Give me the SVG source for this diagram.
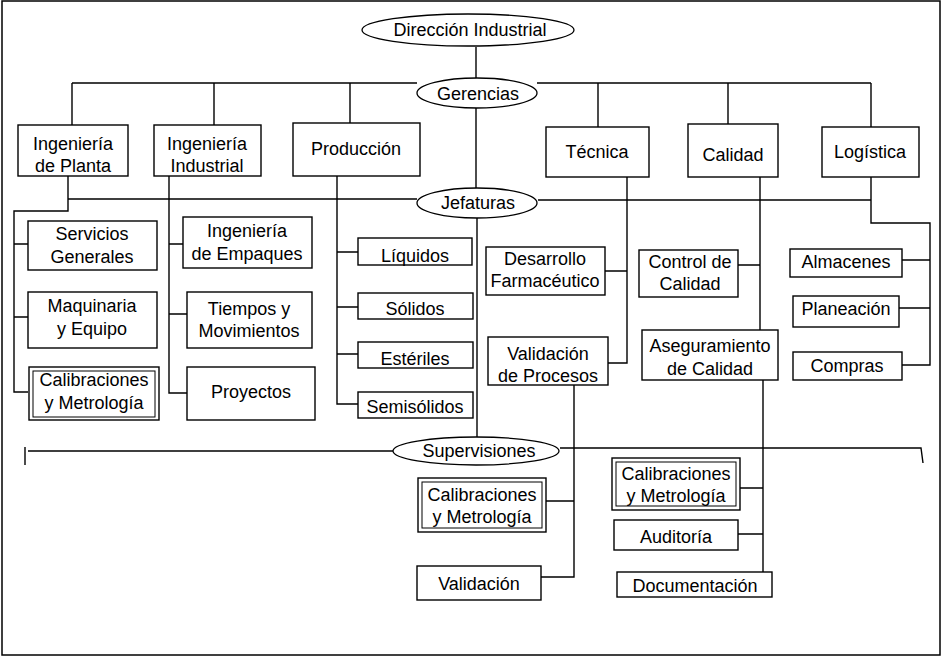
<svg xmlns="http://www.w3.org/2000/svg" width="942" height="657" viewBox="0 0 942 657">
<style>
.b{fill:#fff;stroke:#000;stroke-width:1.4}
.e{fill:#fff;stroke:#000;stroke-width:1.3}
.i{fill:none;stroke:#000;stroke-width:1}
.c{fill:none;stroke:#000;stroke-width:1.4}
text{font-family:"Liberation Sans",Arial,sans-serif;font-size:18px;fill:#000;text-anchor:middle}
</style>
<rect x="2" y="1" width="938" height="654" fill="#fff" stroke="#000" stroke-width="1.5"/>
<g id="connectors" class="c">
<path d="M476 47V78"/>
<path d="M72 83H417M537 83H871"/>
<path d="M72 83V125M214 83V125M350 83V123M598 83V127M728 83V124M871 83V127"/>
<path d="M476 108V188"/>
<path d="M68 199H417M538 200H871"/>
<path d="M68 176V211H14V392H28M14 244H28M14 317H28"/>
<path d="M169 176V393H187M169 244H183M169 314H187"/>
<path d="M337 176V404H358M337 252H358M337 307H358M337 354H358"/>
<path d="M477 218V437"/>
<path d="M627 177V363H608M605 271H627"/>
<path d="M574 385V577H541M546 501H574"/>
<path d="M760 177V330M738 265H760"/>
<path d="M763 380V572M740 488H763M738 534H763"/>
<path d="M871 177V223H930V365H902M902 260H930M899 308H930"/>
<path d="M28 451H393M560 448H921L923 463M25 447V465"/>
</g>
<g id="direccion"><ellipse class="e" cx="468" cy="30" rx="106" ry="16"/><text x="470" y="36">Dirección Industrial</text></g>
<g id="gerencias"><ellipse class="e" cx="477" cy="93" rx="60" ry="15"/><text x="478" y="100">Gerencias</text></g>
<g id="jefaturas"><ellipse class="e" cx="477" cy="203" rx="60" ry="15"/><text x="478" y="209">Jefaturas</text></g>
<g id="supervisiones"><ellipse class="e" cx="476" cy="451" rx="83" ry="14"/><text x="479" y="457">Supervisiones</text></g>

<g id="ing-planta"><rect class="b" x="18" y="125" width="110" height="51"/><text x="73" y="150">Ingeniería</text><text x="73" y="172">de Planta</text></g>
<g id="ing-industrial"><rect class="b" x="154" y="125" width="107" height="51"/><text x="207" y="150">Ingeniería</text><text x="207" y="172">Industrial</text></g>
<g id="produccion"><rect class="b" x="293" y="123" width="127" height="53"/><text x="356" y="155">Producción</text></g>
<g id="tecnica"><rect class="b" x="546" y="127" width="103" height="50"/><text x="597" y="158">Técnica</text></g>
<g id="calidad"><rect class="b" x="688" y="124" width="90" height="53"/><text x="733" y="161">Calidad</text></g>
<g id="logistica"><rect class="b" x="822" y="127" width="97" height="50"/><text x="870" y="158">Logística</text></g>

<g id="servicios"><rect class="b" x="28" y="221" width="129" height="49"/><text x="92" y="240">Servicios</text><text x="92" y="263">Generales</text></g>
<g id="maquinaria"><rect class="b" x="28" y="292" width="129" height="56"/><text x="92" y="312">Maquinaria</text><text x="92" y="335">y Equipo</text></g>
<g id="calib1"><rect class="b" x="29" y="367" width="130" height="53"/><rect class="i" x="33" y="371" width="122" height="46"/><text x="94" y="386">Calibraciones</text><text x="94" y="409">y Metrología</text></g>

<g id="empaques"><rect class="b" x="183" y="217" width="129" height="51"/><text x="247" y="237">Ingeniería</text><text x="247" y="260">de Empaques</text></g>
<g id="tiempos"><rect class="b" x="187" y="292" width="125" height="56"/><text x="249" y="315">Tiempos y</text><text x="249" y="337">Movimientos</text></g>
<g id="proyectos"><rect class="b" x="187" y="367" width="128" height="53"/><text x="251" y="398">Proyectos</text></g>

<g id="liquidos"><rect class="b" x="358" y="238" width="114" height="27"/><text x="415" y="262">Líquidos</text></g>
<g id="solidos"><rect class="b" x="358" y="293" width="115" height="26"/><text x="415" y="315">Sólidos</text></g>
<g id="esteriles"><rect class="b" x="358" y="342" width="115" height="26"/><text x="415" y="365">Estériles</text></g>
<g id="semisolidos"><rect class="b" x="358" y="392" width="115" height="26"/><text x="415" y="413">Semisólidos</text></g>

<g id="desarrollo"><rect class="b" x="486" y="247" width="119" height="48"/><text x="545" y="265">Desarrollo</text><text x="545" y="287">Farmacéutico</text></g>
<g id="validacion-procesos"><rect class="b" x="488" y="337" width="120" height="48"/><text x="548" y="360">Validación</text><text x="548" y="382">de Procesos</text></g>
<g id="control"><rect class="b" x="639" y="250" width="99" height="47"/><text x="690" y="268">Control de</text><text x="690" y="290">Calidad</text></g>
<g id="aseguramiento"><rect class="b" x="642" y="330" width="136" height="50"/><text x="710" y="352">Aseguramiento</text><text x="710" y="375">de Calidad</text></g>
<g id="almacenes"><rect class="b" x="790" y="249" width="112" height="28"/><text x="846" y="268">Almacenes</text></g>
<g id="planeacion"><rect class="b" x="793" y="296" width="106" height="31"/><text x="846" y="315">Planeación</text></g>
<g id="compras"><rect class="b" x="793" y="352" width="109" height="28"/><text x="847" y="372">Compras</text></g>

<g id="calib2"><rect class="b" x="418" y="478" width="128" height="54"/><rect class="i" x="422" y="482" width="120" height="46"/><text x="482" y="501">Calibraciones</text><text x="482" y="523">y Metrología</text></g>
<g id="validacion"><rect class="b" x="417" y="566" width="124" height="34"/><text x="479" y="590">Validación</text></g>
<g id="calib3"><rect class="b" x="612" y="458" width="128" height="52"/><rect class="i" x="616" y="462" width="120" height="44"/><text x="676" y="480">Calibraciones</text><text x="676" y="502">y Metrología</text></g>
<g id="auditoria"><rect class="b" x="614" y="520" width="124" height="30"/><text x="676" y="543">Auditoría</text></g>
<g id="documentacion"><rect class="b" x="617" y="572" width="155" height="25"/><text x="695" y="592">Documentación</text></g>
</svg>
